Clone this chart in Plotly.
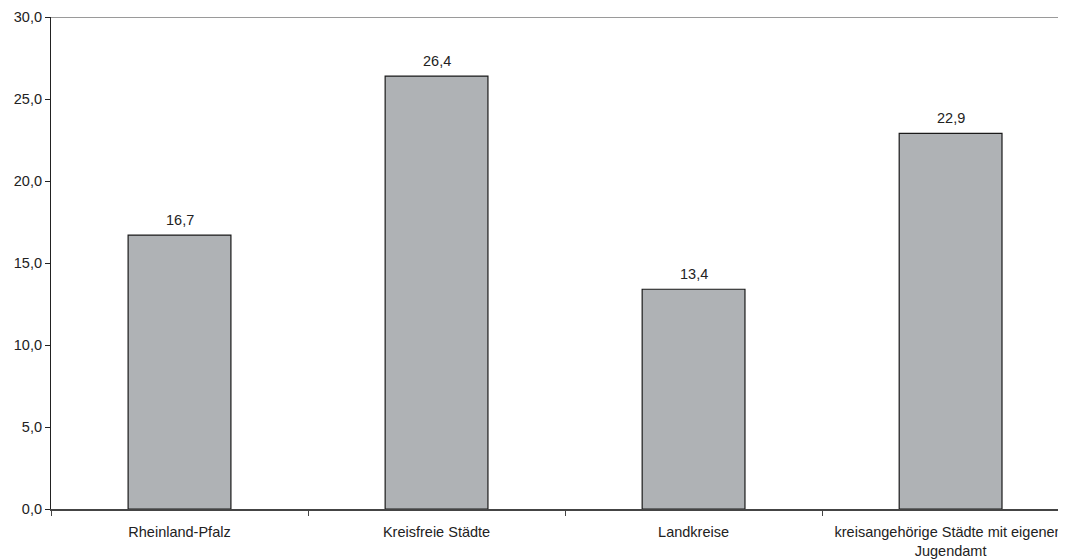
import plotly.graph_objects as go

categories = ["Rheinland-Pfalz", "Kreisfreie Städte", "Landkreise",
              "kreisangehörige Städte mit eigenem<br>Jugendamt"]
values = [16.7, 26.4, 13.4, 22.9]
value_labels = ["16,7", "26,4", "13,4", "22,9"]

FONT = "Liberation Sans, Arial, sans-serif"

fig = go.Figure()
fig.add_trace(go.Bar(
    x=categories, y=values, width=0.4,
    marker=dict(color="#afb2b5", line=dict(color="#1a1a1a", width=1.2)),
))

for c, v, t in zip(categories, values, value_labels):
    fig.add_annotation(x=c, y=v, text=t, showarrow=False, yanchor="middle",
                       yshift=15, font=dict(family=FONT, size=14.5, color="#222"))

fig.add_shape(type="line", xref="paper", yref="y", x0=0, x1=1, y0=30, y1=30,
              line=dict(color="#9a9a9a", width=2))

fig.update_layout(
    width=1058, height=551,
    margin=dict(l=43, r=0, t=9, b=50, autoexpand=False),
    paper_bgcolor="white", plot_bgcolor="white",
    separators=",.",
    showlegend=False,
    font=dict(family=FONT, size=14.5, color="#222"),
    bargap=0.6,
)
fig.update_xaxes(
    range=[-0.5, 3.449], showgrid=False, automargin=False,
    showline=True, linecolor="#444", linewidth=1.5,
    ticks="outside", tickson="boundaries", ticklen=5, tickcolor="#444",
    tickfont=dict(size=14.5), ticklabelstandoff=9,
)
fig.update_yaxes(
    range=[0, 30], dtick=5, tickformat=".1f", showgrid=False, zeroline=False,
    automargin=False,
    showline=True, linecolor="#222", linewidth=1.2,
    ticks="outside", ticklen=5, tickcolor="#222",
    tickfont=dict(size=14.5),
)

fig.write_html("out.html")
